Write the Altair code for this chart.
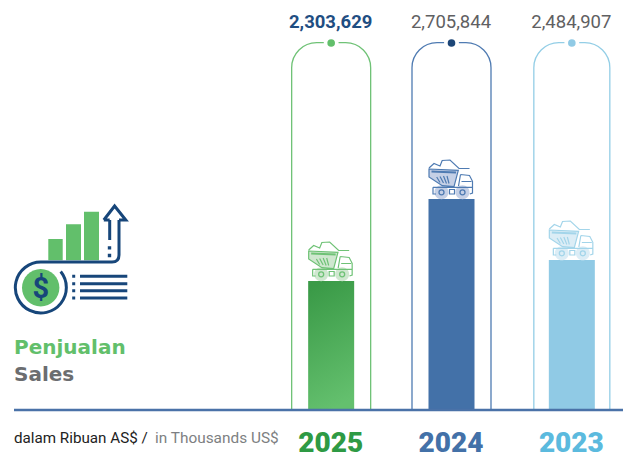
import altair as alt
import pandas as pd

# Sales figures, in thousands of US$, newest year first
years = ["2025", "2024", "2023"]
sales = [2303629, 2705844, 2484907]

# Bar heights follow the stylised scale of the report, set by these stops
scale_values = [0, 2303629, 2484907, 2705844]
scale_pixels = [410, 281, 260, 199]

bar_colors = ["#62bf6b", "#4371a8", "#90cae5"]
year_colors = ["#2e9a44", "#4371a8", "#5bbade"]
frame_colors = ["#6fc276", "#4f7bb2", "#93cee6"]
dot_colors = ["#62bf6b", "#1d4677", "#90cae5"]
truck_lines = ["#6fc276", "#4f7bb2", "#a3d5ea"]
truck_fills = ["#cfe7cf", "#c5d0e6", "#dcedf6"]
frame_widths = [79, 79, 76]
label_weights = ["bold", "normal", "normal"]
label_colors = ["#1f4e82", "#5f6062", "#5f6062"]

df = pd.DataFrame({
    "year": years, "sales": sales, "bar": bar_colors, "ycol": year_colors,
    "frame": frame_colors, "dot": dot_colors, "tl": truck_lines, "tf": truck_fills,
    "fw": frame_widths, "lw": label_weights, "lc": label_colors,
})

x_enc = alt.X("year:N", sort=years, axis=None,
              scale=alt.Scale(domain=years, range=[271, 632], paddingInner=0, paddingOuter=0))
y_scale = alt.Scale(domain=scale_values, range=scale_pixels)
y_enc = alt.Y("sales:Q", axis=None, scale=y_scale)

# Dump truck glyph, drawn upward from the middle of the bar top
TRUCK_BODY = "M-22.5 -30L6.8 -28.7L2.5 -12.3L-9.2 -13.3L-22.5 -22Z"
TRUCK_LINES = (
    "M-22.5 -30L6.8 -28.7L2.5 -12.3L-9.2 -13.3L-22.5 -22Z"
    "M-22.5 -31L-17.5 -35.5L-11.5 -33L-9.3 -38.5L-1.5 -39L7.5 -30.5L18 -30.5"
    "M9 -24.5L18 -23.5L21 -17.7L21 -6L18.3 -5"
    "M9 -24.5L7 -13M10 -17.5L20 -17.5"
    "M-18.5 -11.7L20.7 -11.7M-18.5 -11.7L-18.5 -5L-15.5 -5"
    "M-2 -9.5L3 -9.5L3 -5L-2 -5Z"
    "M-14.8 -22L-11.5 -16.5M-11.5 -22.5L-8 -16M-8 -23L-5 -15.5M-4.5 -23L-2.5 -15.5"
)
TRUCK_BAND = "M-20 -27.5L4.5 -26.5"
TRUCK_WHEELS = (
    "M-17 -6.7A7 7 0 1 1 -3 -6.7A7 7 0 1 1 -17 -6.7Z"
    "M4 -6.7A7 7 0 1 1 18 -6.7A7 7 0 1 1 4 -6.7Z"
)
TRUCK_HUBS = (
    "M-12.5 -6.7A2.5 2.5 0 1 1 -7.5 -6.7A2.5 2.5 0 1 1 -12.5 -6.7Z"
    "M8.5 -6.7A2.5 2.5 0 1 1 13.5 -6.7A2.5 2.5 0 1 1 8.5 -6.7Z"
)

# Sales emblem: rising bars, arrow, coin ring and list lines
ICON_BARS = "M48.3 239H62.7V260.3H48.3ZM66 224.3H81V260.3H66ZM84 211.7H99V260.3H84Z"
ICON_RING = "M109.7 220V240M119 220V255Q119 262 112 262L41 262A25.5 25.5 0 1 0 60.7 271.5"
ICON_HEAD = "M103.8 220L114.6 206L125.8 220L119 220M109.7 220L103.8 220"
ICON_LIST = "M80 276.3H127.3M80 283.7H127.3M80 290.7H127.3M80 298H127.3"
ICON_DOTS = ("M72.2 274.8h3v3h-3ZM72.2 282.2h3v3h-3ZM72.2 289.2h3v3h-3ZM72.2 296.5h3v3h-3Z"
             "M107.8 246.2h3.4v3.4h-3.4ZM107.8 253.8h3.4v3.4h-3.4Z")
ICON_COIN = "M22 287.7A18.7 18.7 0 1 1 59.4 287.7A18.7 18.7 0 1 1 22 287.7Z"

base = alt.Chart(df).encode(x=x_enc)
ones = alt.Chart(pd.DataFrame({"k": [1]}))

frames = base.mark_bar(fillOpacity=0, strokeWidth=1.3, cornerRadiusTopLeft=25, cornerRadiusTopRight=25).encode(
    y=alt.value(42.7), y2=alt.value(410),
    size=alt.Size("fw:Q", scale=None),
    stroke=alt.Stroke("frame:N", scale=None),
)
gaps = base.mark_point(filled=True, size=225, opacity=1, color="white").encode(y=alt.value(43))
dots = base.mark_point(filled=True, size=58, opacity=1).encode(
    y=alt.value(43), fill=alt.Fill("dot:N", scale=None), stroke=alt.value(None))

bars = base.transform_filter(alt.datum.year != "2025").mark_bar(size=46).encode(
    y=y_enc, y2=alt.Y2(datum=0), fill=alt.Fill("bar:N", scale=None))
bar_2025 = base.transform_filter(alt.datum.year == "2025").mark_bar(
    size=46,
    color=alt.Gradient(gradient="linear", x1=0.3, x2=0.5, y1=0, y2=1,
                       stops=[alt.GradientStop(color="#3a9a47", offset=0),
                              alt.GradientStop(color="#64c06e", offset=1)]),
).encode(y=y_enc, y2=alt.Y2(datum=0))

on_bar = base.encode(y=y_enc)
truck_body = on_bar.mark_point(shape=TRUCK_BODY, size=4, filled=True, opacity=1, strokeWidth=0).encode(
    fill=alt.Fill("tf:N", scale=None))
truck_wheels = on_bar.mark_point(shape=TRUCK_WHEELS, size=4, filled=True, opacity=1, strokeWidth=0).encode(
    fill=alt.Fill("tf:N", scale=None))
truck_lines_mark = on_bar.mark_point(shape=TRUCK_LINES, size=4, filled=False, opacity=1, strokeWidth=1.2).encode(
    stroke=alt.Stroke("tl:N", scale=None))
truck_band = on_bar.mark_point(shape=TRUCK_BAND, size=4, filled=False, opacity=1, strokeWidth=2).encode(
    stroke=alt.Stroke("tl:N", scale=None))
truck_hubs = on_bar.mark_point(shape=TRUCK_HUBS, size=4, filled=False, opacity=1, strokeWidth=1.3).encode(
    stroke=alt.Stroke("tl:N", scale=None))

value_labels_bold = base.transform_filter(alt.datum.lw == "bold").mark_text(
    font="Roboto", fontSize=18.5, fontWeight="bold", baseline="alphabetic", dx=-0.5).encode(
    y=alt.value(27.5), text=alt.Text("sales:Q", format=","), color=alt.Color("lc:N", scale=None))
value_labels = base.transform_filter(alt.datum.lw == "normal").mark_text(
    font="Roboto", fontSize=18.5, baseline="alphabetic", dx=-0.5).encode(
    y=alt.value(27.5), text=alt.Text("sales:Q", format=","), color=alt.Color("lc:N", scale=None))
year_labels = base.mark_text(font="Roboto", fontSize=28, fontWeight=900, baseline="alphabetic", dx=-0.5).encode(
    y=alt.value(452), text="year:N", color=alt.Color("ycol:N", scale=None))

baseline = ones.mark_rule(color="#4a72a8", strokeWidth=2.5).encode(
    x=alt.value(14), x2=alt.value(623), y=alt.value(410))


def glyph(path, **kw):
    return ones.mark_point(shape=path, size=4, opacity=1, **kw).encode(x=alt.value(0), y=alt.value(0))


def note(text, x, y, **kw):
    return ones.mark_text(align="left", baseline="alphabetic", text=text, **kw).encode(
        x=alt.value(x), y=alt.value(y))


emblem = [
    glyph(ICON_BARS, filled=True, color="#62bf6b", strokeWidth=0),
    glyph(ICON_COIN, filled=True, color="#62bf6b", strokeWidth=0),
    glyph(ICON_RING, filled=False, color="#17467a", strokeWidth=3),
    glyph(ICON_HEAD, filled=False, color="#17467a", strokeWidth=3),
    glyph(ICON_LIST, filled=False, color="#17467a", strokeWidth=3),
    glyph(ICON_DOTS, filled=True, color="#17467a", strokeWidth=0),
    note("$", 32.5, 298, font="Roboto", fontSize=29, fontWeight="bold", color="#17467a"),
]

texts = [
    note("Penjualan", 14, 354, font="DejaVu Sans", fontSize=20, fontWeight="bold", color="#62bf6b"),
    note("Sales", 14, 381, font="DejaVu Sans", fontSize=20, fontWeight="bold", color="#6b6d70"),
    note("dalam Ribuan AS$ /", 14, 443, font="Roboto", fontSize=15.2, color="#222222"),
    note("in Thousands US$", 155, 443, font="Roboto", fontSize=15.4, color="#7d7f82"),
]

chart = alt.layer(
    frames, gaps, dots, bars, bar_2025, truck_wheels, truck_body, truck_lines_mark, truck_band, truck_hubs,
    value_labels_bold, value_labels, year_labels, baseline, *emblem, *texts,
).properties(
    width=623, height=457, padding=0,
    autosize=alt.AutoSizeParams(type="none"),
).configure_view(stroke=None)

chart.save("out.html", embed_options={"renderer": "svg", "actions": False})
